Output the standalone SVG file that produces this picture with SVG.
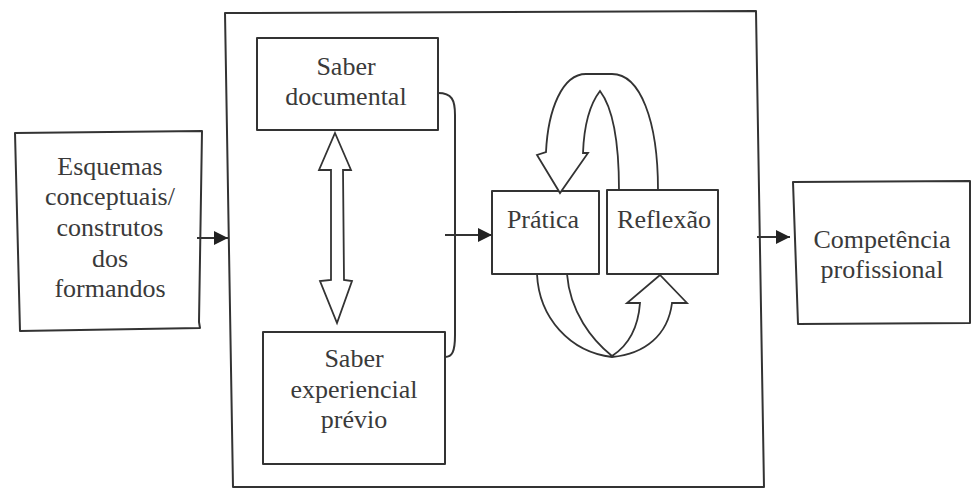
<svg xmlns="http://www.w3.org/2000/svg" width="971" height="488" viewBox="0 0 971 488">
<style>
.box{fill:#fff;stroke:#333;stroke-width:2;stroke-linejoin:round}
.ln{fill:none;stroke:#333;stroke-width:2}
.band{fill:#fff;stroke:#333;stroke-width:1.8;stroke-linejoin:miter}
.t{font-family:"Liberation Serif","Times New Roman",serif;font-size:26px;fill:#3a3a3a;text-anchor:middle}
</style>
<defs>
<marker id="ah" viewBox="0 0 10 10" refX="10" refY="5" markerWidth="6" markerHeight="6" markerUnits="userSpaceOnUse" orient="auto">
<path d="M0,0 L10,5 L0,10 Z" fill="#222"/>
</marker>
<marker id="ah2" viewBox="0 0 10 10" refX="10" refY="5" markerWidth="16" markerHeight="14" markerUnits="userSpaceOnUse" orient="auto">
<path d="M0,0 L10,5 L0,10 Z" fill="#222"/>
</marker>
</defs>
<rect width="971" height="488" fill="#fff"/>
<g id="frame">
<path class="box" d="M225,13 L756,11 L764,487 L233,487 Z"/>
</g>
<g id="esquemas">
<path class="box" d="M15,133 L202,131 L199,322 L200,328 L20,331 Z"/>
<text class="t" x="110" y="175">Esquemas</text>
<text class="t" x="110" y="205">conceptuais/</text>
<text class="t" x="110" y="236">construtos</text>
<text class="t" x="110" y="267">dos</text>
<text class="t" x="110" y="297">formandos</text>
</g>
<g id="saber-documental">
<rect class="box" x="257" y="38" width="181" height="92"/>
<text class="t" x="346" y="75">Saber</text>
<text class="t" x="346" y="105">documental</text>
</g>
<g id="saber-experiencial">
<rect class="box" x="263" y="332" width="182" height="132"/>
<text class="t" x="354" y="367">Saber</text>
<text class="t" x="354" y="398">experiencial</text>
<text class="t" x="354" y="428">prévio</text>
</g>
<g id="pratica">
<rect class="box" x="492" y="191" width="107" height="83"/>
<text class="t" x="543" y="228">Prática</text>
</g>
<g id="reflexao">
<rect class="box" x="607" y="190" width="111" height="84"/>
<text class="t" x="664" y="228">Reflexão</text>
</g>
<g id="competencia">
<path class="box" d="M793,182 L970,181 L970,323 L798,324 Z"/>
<text class="t" x="882" y="248">Competência</text>
<text class="t" x="882" y="278">profissional</text>
</g>
<g id="connectors">
<line class="ln" x1="197" y1="238" x2="228" y2="238" marker-end="url(#ah2)"/>
<path class="ln" d="M438,93 C452,93 455,100 455,115 L455,335 C455,352 452,357 445,357"/>
<line class="ln" x1="445" y1="235" x2="492" y2="235" marker-end="url(#ah2)"/>
<line class="ln" x1="757" y1="237" x2="790" y2="237" marker-end="url(#ah2)"/>
<path class="band" d="M335,133 L351,170 L343,170 L344,280 L352,281 L337,323 L320,281 L331,280 L331,170 L319,170 Z"/>
<path class="band" d="M658,190 C658,120 640,74 612,74 L586,74 C562,74 548,110 546,152 L537,155 L560,193 L588,153 L583,153 C584,126 590,104 600,91 C613,108 619,140 619,190 Z"/>
<path class="band" d="M537,274 C539,318 570,352 612,357 C645,354 668,335 672,303 L687,303 L660,275 L627,303 L640,303 C638,330 626,347 612,356 C592,340 570,312 567,274 Z"/>
</g>
</svg>
